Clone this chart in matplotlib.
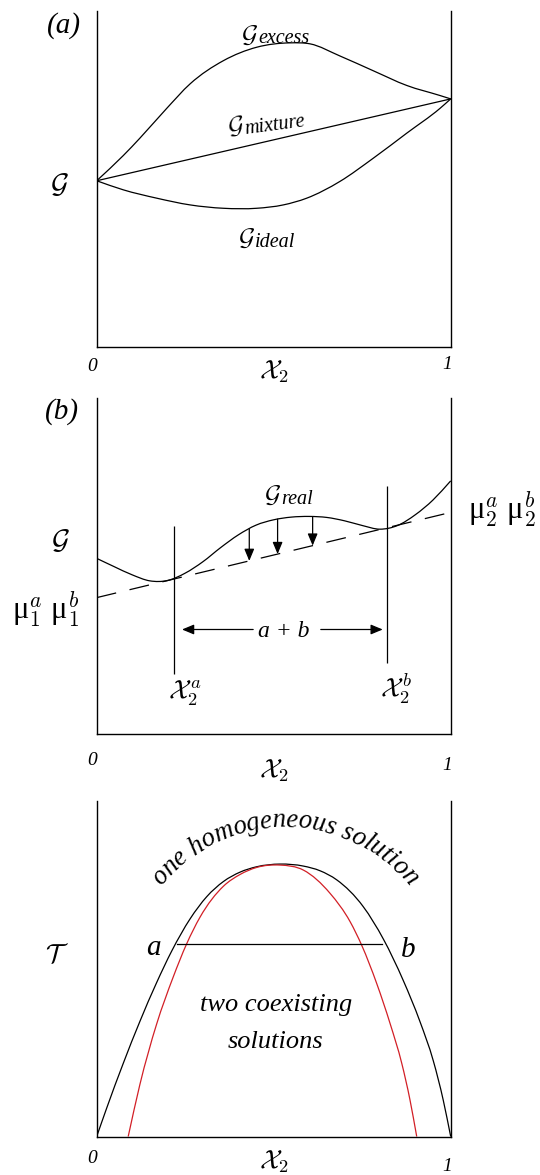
from __future__ import annotations

import matplotlib

matplotlib.use("Agg")

import matplotlib.pyplot as plt
import numpy as np
from matplotlib.font_manager import FontProperties
from matplotlib.patches import PathPatch
from matplotlib.path import Path
from matplotlib.textpath import TextToPath

plt.rcParams["font.family"] = ["Liberation Serif", "DejaVu Serif"]
plt.rcParams["font.style"] = "italic"
plt.rcParams["mathtext.fontset"] = "cm"

# (a) free energy of the mixture against composition x2
x_excess = [0.0, 0.075, 0.122, 0.198, 0.264, 0.358, 0.452, 0.546, 0.603, 0.687, 0.781, 0.876, 0.970, 1.0]
g_excess = [0.494, 0.569, 0.621, 0.710, 0.783, 0.852, 0.892, 0.905, 0.902, 0.866, 0.822, 0.778, 0.748, 0.738]
x_ideal = [0.0, 0.075, 0.170, 0.264, 0.358, 0.452, 0.527, 0.593, 0.687, 0.781, 0.876, 0.970, 1.0]
g_ideal = [0.494, 0.467, 0.442, 0.422, 0.412, 0.412, 0.422, 0.442, 0.492, 0.561, 0.636, 0.710, 0.738]
x_mixture = [0.0, 1.0]
g_mixture = [0.494, 0.738]

# (b) real solution with a common tangent
x_real = [0.0, 0.05, 0.10, 0.15, 0.20, 0.25, 0.30, 0.35, 0.40, 0.45, 0.50,
          0.55, 0.60, 0.65, 0.70, 0.75, 0.80, 0.85, 0.90, 0.95, 1.0]
g_real = [0.522, 0.497, 0.473, 0.455, 0.456, 0.478, 0.512, 0.554, 0.592, 0.621, 0.637,
          0.645, 0.647, 0.644, 0.634, 0.620, 0.609, 0.620, 0.652, 0.696, 0.753]
x_tangent = [0.0, 1.0]
g_tangent = [0.405, 0.659]
x2_phase = [0.218, 0.820]          # x2^a, x2^b
phase_lo = [0.178, 0.209]
phase_hi = [0.617, 0.738]
x_drop = [0.431, 0.511, 0.610]     # arrows from curve down to tangent
y_span = 0.310                     # a + b arrow height

# (c) phase diagram: binodal (black) and spinodal (red)
x_binodal = [0.0, 0.028, 0.075, 0.122, 0.169, 0.212, 0.264, 0.311, 0.358, 0.405, 0.452,
             0.518, 0.584, 0.631, 0.678, 0.753, 0.810, 0.866, 0.913, 0.951, 0.979, 1.0]
t_binodal = [0.0, 0.084, 0.218, 0.343, 0.458, 0.553, 0.649, 0.715, 0.760, 0.788, 0.804,
             0.812, 0.806, 0.792, 0.765, 0.685, 0.588, 0.465, 0.343, 0.225, 0.108, 0.0]
x_spinodal = [0.089, 0.122, 0.169, 0.216, 0.254, 0.292, 0.358, 0.405, 0.452, 0.518,
              0.584, 0.659, 0.716, 0.749, 0.791, 0.829, 0.862, 0.885, 0.904]
t_spinodal = [0.0, 0.155, 0.334, 0.475, 0.574, 0.654, 0.746, 0.781, 0.802, 0.809,
              0.794, 0.725, 0.640, 0.569, 0.456, 0.336, 0.217, 0.109, 0.0]
x_tie = [0.226, 0.805]
t_tie = [0.573, 0.573]

W, H, DPI = 540, 1175, 100
LW = 0.9
RED = "#d21f26"


def smooth_path(x, y):
    # cubic Hermite through the points, written as Bezier segments
    x = np.asarray(x, float)
    y = np.asarray(y, float)
    h = np.diff(x)
    d = np.diff(y) / h
    m = np.empty_like(y)
    m[0], m[-1] = d[0], d[-1]
    m[1:-1] = (h[1:] * d[:-1] + h[:-1] * d[1:]) / (h[:-1] + h[1:])
    verts = [(x[0], y[0])]
    codes = [Path.MOVETO]
    for i in range(len(x) - 1):
        verts += [(x[i] + h[i] / 3, y[i] + m[i] * h[i] / 3),
                  (x[i + 1] - h[i] / 3, y[i + 1] - m[i + 1] * h[i] / 3),
                  (x[i + 1], y[i + 1])]
        codes += [Path.CURVE4] * 3
    return Path(verts, codes)


def curve(ax, x, y, color="k"):
    ax.add_patch(PathPatch(smooth_path(x, y), fill=False, lw=LW, edgecolor=color))


def frame(fig, top_px, height_px=335.5):
    ax = fig.add_axes([96.7 / W, 1 - (top_px + height_px) / H, 354 / W, height_px / H])
    ax.set_xlim(0, 1)
    ax.set_ylim(0, 1)
    ax.set_xticks([])
    ax.set_yticks([])
    ax.spines["top"].set_visible(False)
    for side in ("left", "right", "bottom"):
        ax.spines[side].set_linewidth(1.0)
    ax.patch.set_alpha(0)
    return ax


def g_label(ax, x, y, word, rot=0.0):
    kw = dict(transform=ax.transAxes, va="baseline", rotation=rot, rotation_mode="anchor")
    ax.text(x, y, r"$\mathcal{G}$", fontsize=18, ha="right", **kw)
    ax.text(x, y - 0.005, word, fontsize=14.5, ha="left", **kw)


def x_axis_labels(ax, y0, yx, y1):
    ax.text(-0.013, y0, "0", transform=ax.transAxes, fontsize=14, ha="center", va="center")
    ax.text(0.50, yx, r"$\mathcal{X}_2$", transform=ax.transAxes, fontsize=19, ha="center", va="center")
    ax.text(0.99, y1, "1", transform=ax.transAxes, fontsize=14, ha="center", va="center")


def arc_text(fig, text, cx, cy, r, span_deg, fs0=18.0):
    prop = FontProperties(family="Liberation Serif", style="italic", size=fs0)
    ttp = TextToPath()
    ref = ttp.get_text_width_height_descent("l", prop, ismath=False)[0]
    starts = np.array([ttp.get_text_width_height_descent(text[:i] + "l", prop, ismath=False)[0] - ref
                       for i in range(len(text) + 1)]) * DPI / 72.0
    centres = (starts[:-1] + starts[1:]) / 2.0
    scale = r * np.radians(span_deg) / (centres[-1] - centres[0])
    mid = (centres[0] + centres[-1]) / 2.0
    for ch, c in zip(text, centres):
        if ch == " ":
            continue
        theta = (c - mid) * scale / r
        px = cx + r * np.sin(theta)
        py = cy - r * np.cos(theta)
        fig.text(px / W, 1 - py / H, ch, fontsize=fs0 * scale, ha="center", va="baseline",
                 rotation=-np.degrees(theta), rotation_mode="anchor")


fig = plt.figure(figsize=(W / DPI, H / DPI), dpi=DPI)

# panel (a)
ax = frame(fig, 11)
curve(ax, x_excess, g_excess)
curve(ax, x_ideal, g_ideal)
ax.plot(x_mixture, g_mixture, color="k", lw=LW)
ax.text(-0.093, 0.958, "(a)", transform=ax.transAxes, fontsize=21, ha="center", va="center")
ax.text(-0.106, 0.482, r"$\mathcal{G}$", transform=ax.transAxes, fontsize=20, ha="center", va="center")
g_label(ax, 0.456, 0.909, "excess")
g_label(ax, 0.419, 0.639, "mixture", rot=7.5)
g_label(ax, 0.447, 0.302, "ideal")
x_axis_labels(ax, -0.060, -0.074, -0.055)

# panel (b)
ax = frame(fig, 398)
curve(ax, x_real, g_real)
ax.plot(x_tangent, g_tangent, color="k", lw=LW, linestyle=(0, (16, 11)))
ax.vlines(x2_phase, phase_lo, phase_hi, color="k", lw=LW)
slope = (g_tangent[1] - g_tangent[0]) / (x_tangent[1] - x_tangent[0])
arrow = dict(arrowstyle="-|>,head_length=0.6,head_width=0.25", color="k", lw=LW,
             mutation_scale=12, shrinkA=0, shrinkB=0)
for xd in x_drop:
    top = np.interp(xd, x_real, g_real)
    bottom = g_tangent[0] + slope * xd
    ax.annotate("", xy=(xd, bottom), xytext=(xd, top), arrowprops=arrow)
ax.annotate("", xy=(0.241, y_span), xytext=(0.442, y_span), arrowprops=arrow)
ax.annotate("", xy=(0.808, y_span), xytext=(0.633, y_span), arrowprops=arrow)
ax.text(0.527, y_span - 0.005, "a + b", fontsize=17, ha="center", va="center")
ax.text(0.249, 0.119, r"$\mathcal{X}_2^{\,a}$", transform=ax.transAxes, fontsize=19, ha="center", va="center")
ax.text(0.847, 0.134, r"$\mathcal{X}_2^{\,b}$", transform=ax.transAxes, fontsize=19, ha="center", va="center")
ax.text(-0.098, 0.960, "(b)", transform=ax.transAxes, fontsize=21, ha="center", va="center")
ax.text(-0.104, 0.574, r"$\mathcal{G}$", transform=ax.transAxes, fontsize=20, ha="center", va="center")
ax.text(-0.145, 0.368, r"μ$_1^a$ μ$_1^b$", transform=ax.transAxes, fontsize=22,
        fontstyle="normal", ha="center", va="center")
ax.text(1.145, 0.667, r"μ$_2^a$ μ$_2^b$", transform=ax.transAxes, fontsize=22,
        fontstyle="normal", ha="center", va="center")
g_label(ax, 0.521, 0.690, "real")
x_axis_labels(ax, -0.080, -0.110, -0.095)

# panel (c)
ax = frame(fig, 801)
curve(ax, x_binodal, t_binodal)
curve(ax, x_spinodal, t_spinodal, color=RED)
ax.plot(x_tie, t_tie, color="k", lw=LW)
ax.text(0.160, 0.561, "a", fontsize=21, ha="center", va="center")
ax.text(0.880, 0.556, "b", fontsize=21, ha="center", va="center")
ax.text(0.508, 0.392, "two coexisting", fontsize=19, ha="center", va="center")
ax.text(0.504, 0.283, "solutions", fontsize=19, ha="center", va="center")
ax.text(-0.113, 0.541, r"$\mathcal{T}$", transform=ax.transAxes, fontsize=19, ha="center", va="center")
x_axis_labels(ax, -0.065, -0.075, -0.090)
arc_text(fig, "one homogeneous solution", 285, 985, 158, 98)

fig.savefig("out.png", dpi=DPI)
plt.close(fig)
